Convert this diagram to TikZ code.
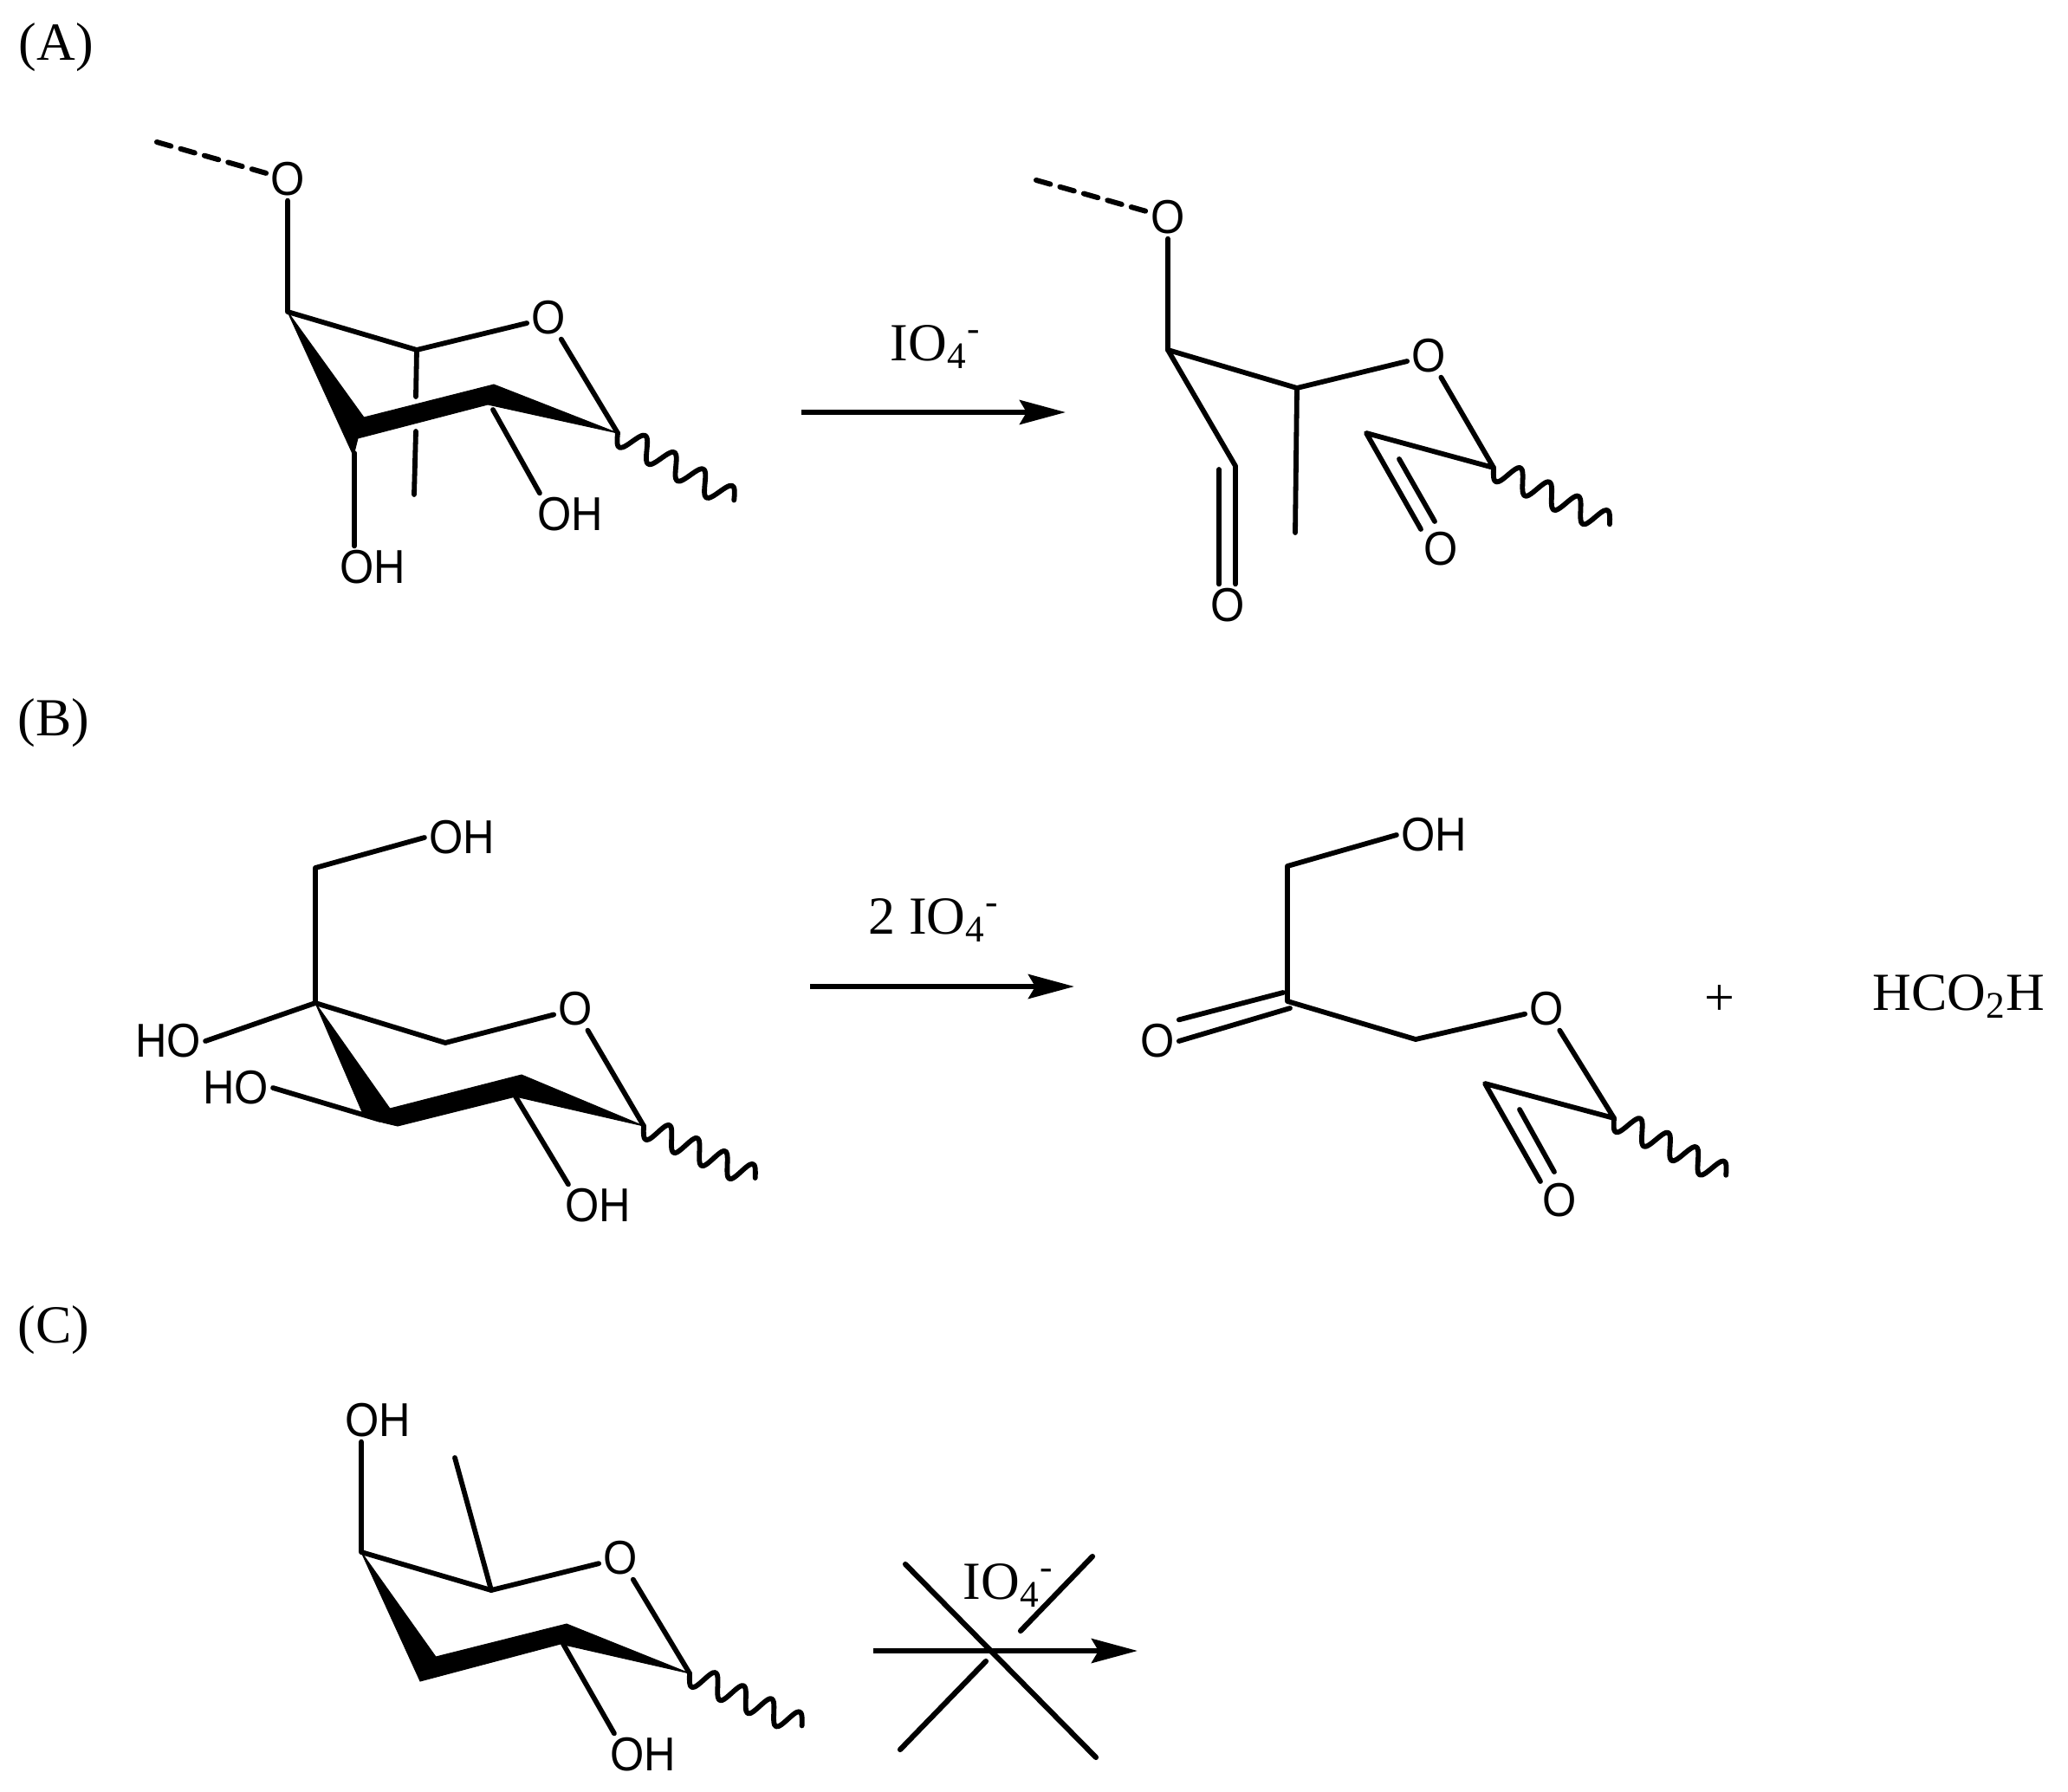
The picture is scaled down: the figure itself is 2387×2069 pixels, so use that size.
\documentclass[tikz,border=0pt]{standalone}
\usepackage{fontspec}
\setmainfont{Liberation Serif}
\newfontfamily\atomfont[FakeStretch=0.92]{Liberation Sans}
\usetikzlibrary{arrows.meta}
\tikzset{
	bond/.style={line width=0.058cm,line cap=round,line join=round},
	hashbond/.style={bond,line width=0.06cm,dash pattern=on 0.17cm off 0.115cm},
	wedgebond/.style={fill=black,draw=black,line width=0.01cm,line join=miter},
	wavebond/.style={line width=0.058cm,line cap=round,line join=round},
	atom/.style={font=\atomfont\fontsize{15.6}{17}\selectfont,inner sep=0.045cm},
	formula/.style={font=\fontsize{17.6}{20}\selectfont,inner sep=0pt},
	rxnarrow/.style={line width=0.06cm,-{Stealth[length=0.53cm,width=0.28cm,inset=0.08cm]}}
}
\begin{document}
\begin{tikzpicture}[x=0.01cm,y=-0.01cm]
	\useasboundingbox (0,0) rectangle (2387,2069);
	% Reaktion A
	\node[formula,anchor=base west] (labelA) at (21,69) {(A)};
	\coordinate (a1) at (332,360);
	\coordinate (a2) at (481,404);
	\coordinate (a3) at (713,500);
	\coordinate (a4) at (569,473);
	\coordinate (a5) at (409,523);
	\coordinate (aFree) at (181,164);
	\coordinate (aMe1) at (480,458);
	\coordinate (aMe2) at (480,498);
	\coordinate (aMe3) at (478,571);
	\node[atom] (aO) at (332,207) {O};
	\node[atom] (aOring) at (633,367) {O};
	\node[atom] (aOHa) at (430,655) {OH};
	\node[atom] (aOHb) at (658,594) {OH};
	\draw[hashbond] (aFree) -- (aO);
	\draw[bond] (aO) -- (a1) -- (a2) -- (aOring) -- (a3);
	\draw[bond] (a2) -- (aMe1) (aMe2) -- (aMe3);
	\draw[bond] (a5) -- (a5 |- aOHa.north);
	\draw[bond] (a4) -- ([xshift=0.08cm]aOHb.north west);
	\fill[wedgebond] (a1) -- (420,482) -- (570,444) -- (a3) -- (563,467) -- (413,506) -- (408,526) -- cycle;
	\coordinate (arrowAs) at (925,476);
	\coordinate (arrowAe) at (1230,476);
	\draw[rxnarrow] (arrowAs) -- (arrowAe);
	\node[formula,anchor=base west] (reagentA) at (1027,416) {IO\textsubscript{4}\textsuperscript{-}};
	\coordinate (b1) at (1348,404);
	\coordinate (b2) at (1497,448);
	\coordinate (b3) at (1426,538);
	\coordinate (b4) at (1407,542);
	\coordinate (b5) at (1724,540);
	\coordinate (b6) at (1577,500);
	\coordinate (b7) at (1640,611);
	\coordinate (b8) at (1615,530);
	\coordinate (b9) at (1656,602);
	\coordinate (bFree) at (1196,208);
	\coordinate (bMe) at (1495,615);
	\node[atom] (bO) at (1348,251) {O};
	\node[atom] (bOring) at (1649,411) {O};
	\node[atom] (bOald) at (1417,699) {O};
	\node[atom] (bOest) at (1663,634) {O};
	\draw[hashbond] (bFree) -- (bO);
	\draw[bond] (bO) -- (b1) -- (b2) -- (bOring) -- (b5) -- (b6) -- (b7);
	\draw[bond] (b8) -- (b9);
	\draw[bond] (b2) -- (bMe);
	\draw[bond] (b1) -- (b3) -- (b3 |- bOald.north);
	\draw[bond] (b4) -- (b4 |- bOald.north);
	% Reaktion B
	\node[formula,anchor=base west] (labelB) at (20,849) {(B)};
	\coordinate (c1) at (364,1158);
	\coordinate (c2) at (364,1002);
	\coordinate (c3) at (514,1204);
	\coordinate (c4) at (743,1300);
	\coordinate (c5) at (595,1266);
	\coordinate (c6) at (439,1293);
	\node[atom] (cOHtop) at (533,967) {OH};
	\node[atom] (cHOa) at (194,1202) {HO};
	\node[atom] (cHOb) at (272,1256) {HO};
	\node[atom] (cOring) at (664,1165) {O};
	\node[atom] (cOH) at (690,1392) {OH};
	\draw[bond] (cOHtop.west) -- (c2) -- (c1) -- (c3) -- (cOring) -- (c4);
	\draw[bond] (cHOa.east) -- (c1);
	\draw[bond] (cHOb.east) -- (c6);
	\draw[bond] (c5) -- ([xshift=0.09cm]cOH.north west);
	\fill[wedgebond] (c1) -- (450,1280) -- (602,1241) -- (c4) -- (c5) -- (459,1300) -- (442,1296) -- (419,1286) -- cycle;
	\coordinate (arrowBs) at (935,1139);
	\coordinate (arrowBe) at (1240,1139);
	\draw[rxnarrow] (arrowBs) -- (arrowBe);
	\node[formula,anchor=base west] (reagentB) at (1002,1078) {2 IO\textsubscript{4}\textsuperscript{-}};
	\coordinate (d1) at (1486,1156);
	\coordinate (d2) at (1486,1000);
	\coordinate (d3) at (1481,1146);
	\coordinate (d4) at (1489,1164);
	\coordinate (d5) at (1634,1200);
	\coordinate (d6) at (1863,1291);
	\coordinate (d7) at (1714,1251);
	\coordinate (d8) at (1778,1364);
	\coordinate (d9) at (1754,1281);
	\coordinate (d10) at (1794,1353);
	\node[atom] (dOH) at (1655,964) {OH};
	\node[atom] (dOket) at (1336,1202) {O};
	\node[atom] (dOring) at (1785,1165) {O};
	\node[atom] (dOest) at (1800,1386) {O};
	\draw[bond] (dOH.west) -- (d2) -- (d1) -- (d5) -- (dOring) -- (d6) -- (d7) -- (d8);
	\draw[bond] (d9) -- (d10);
	\draw[bond] (d3) -- (dOket.north east);
	\draw[bond] (d4) -- (dOket.east);
	\node[formula] (plus) at (1985,1155) {+};
	\node[formula,anchor=base west] (formic) at (2161,1166) {HCO\textsubscript{2}H};
	% Reaktion C
	\node[formula,anchor=base west] (labelC) at (20,1550) {(C)};
	\coordinate (e1) at (417,1792);
	\coordinate (e2) at (567,1836);
	\coordinate (e3) at (796,1932);
	\coordinate (e4) at (650,1898);
	\coordinate (eMe) at (525,1683);
	\node[atom] (eOHtop) at (436,1640) {OH};
	\node[atom] (eOring) at (716,1799) {O};
	\node[atom] (eOH) at (742,2026) {OH};
	\draw[bond] (e1 |- eOHtop.south) -- (e1) -- (e2) -- (eOring) -- (e3);
	\draw[bond] (e2) -- (eMe);
	\draw[bond] (e4) -- ([xshift=0.1cm]eOH.north west);
	\fill[wedgebond] (e1) -- (503,1913) -- (654,1875) -- (e3) -- (647,1898) -- (485,1941) -- cycle;
	\coordinate (arrowCs) at (1008,1906);
	\coordinate (arrowCe) at (1313,1906);
	\draw[rxnarrow] (arrowCs) -- (arrowCe);
	\node[formula,anchor=base west] (reagentC) at (1111,1846) {IO\textsubscript{4}\textsuperscript{-}};
	\coordinate (crossA) at (1045,1806);
	\coordinate (crossB) at (1265,2029);
	\coordinate (crossC) at (1261,1797);
	\coordinate (crossD) at (1178,1883);
	\coordinate (crossE) at (1138,1918);
	\coordinate (crossF) at (1039,2020);
	\draw[bond,line width=0.062cm] (crossA) -- (crossB);
	\draw[bond,line width=0.062cm] (crossC) -- (crossD) (crossE) -- (crossF);
	% Wellenlinien
	\foreach \start/\ang/\len in {a3/-30/155,b5/-26/149,c4/-25/142,d6/-27/145,e3/-25/143}
	\draw[wavebond,shift={(\start)},rotate=\ang] plot[smooth,samples=60,domain=0:\len] (\x,{13.5*sin(4*360*(\x/\len))});
\end{tikzpicture}
\end{document}
